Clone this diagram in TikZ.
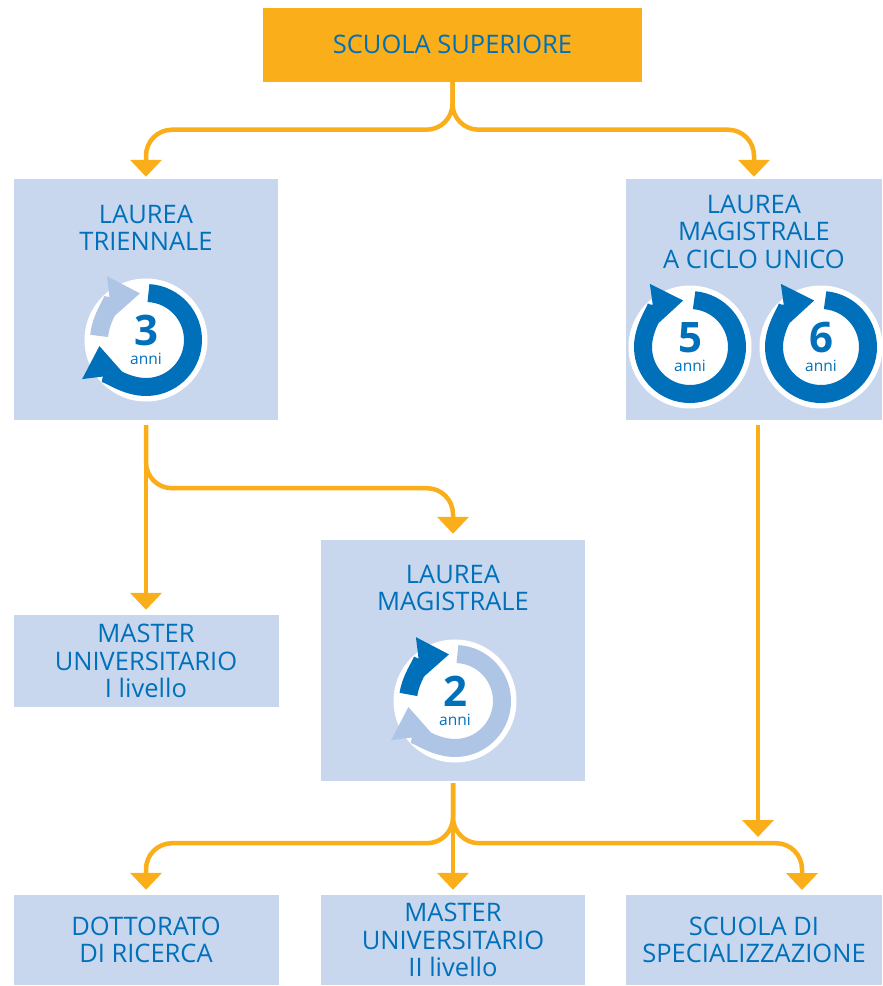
\documentclass[tikz,border=0pt]{standalone}
\usepackage{fontspec}
\setmainfont{Open Sans}
\usepackage{tikz}
\usetikzlibrary{arrows.meta, positioning, calc}

\definecolor{boxorange}{HTML}{F9AE1A}
\definecolor{boxblue}{HTML}{C8D7ED}
\definecolor{textblue}{HTML}{0070BA}
\definecolor{ringlight}{HTML}{AFC5E6}

\tikzset{
  box/.style={fill=boxblue, text=textblue, align=center, inner sep=0pt,
    font=\fontsize{25.5}{27.5}\selectfont},
  topbox/.style={box, fill=boxorange},
  lbl/.style={text=textblue, align=center, inner sep=0pt,
    font=\fontsize{25.5}{27.5}\selectfont},
  flow/.style={draw=boxorange, line width=4.5pt, rounded corners=26pt,
    -{Triangle[width=31pt,length=17pt]}},
  cyc/.style={line width=18pt, -{Triangle[width=40pt,length=31pt]}},
  num/.style={text=textblue, inner sep=0pt, anchor=base,
    font=\fontsize{42}{42}\selectfont\bfseries},
  yrs/.style={text=textblue, inner sep=0pt, anchor=base,
    font=\fontsize{15.5}{15.5}\selectfont},
}

\begin{document}
\begin{tikzpicture}[x=1pt, y=1pt]
  \useasboundingbox (0,0) rectangle (883,-986);

  % Boxes
  \node[topbox, minimum width=379pt, minimum height=74pt] (top) at (452.5,-44.5) {SCUOLA SUPERIORE};
  \node[box, minimum width=264pt, minimum height=241pt] (tri) at (146,-299.5) {};
  \node[box, minimum width=256pt, minimum height=241pt] (ciclo) at (754,-299.5) {};
  \node[box, minimum width=264pt, minimum height=241pt] (lm) at (453,-660.5) {};
  \node[box, minimum width=265pt, minimum height=92pt] (m1) at (146,-661) {MASTER\\UNIVERSITARIO\\I livello};
  \node[box, minimum width=265pt, minimum height=90pt] (dott) at (146,-940) {DOTTORATO\\DI RICERCA};
  \node[box, minimum width=264pt, minimum height=90pt] (m2) at (453,-940) {MASTER\\UNIVERSITARIO\\II livello};
  \node[box, minimum width=256pt, minimum height=90pt] (spec) at (754,-940) {SCUOLA DI\\SPECIALIZZAZIONE};

  % Titles of the tall boxes
  \node[lbl, below=26pt of tri.north] (tritxt) {LAUREA\\TRIENNALE};
  \node[lbl, below=16pt of ciclo.north] (ciclotxt) {LAUREA\\MAGISTRALE\\A CICLO UNICO};
  \node[lbl, below=25pt of lm.north] (lmtxt) {LAUREA\\MAGISTRALE};

  % 3 anni
  \coordinate (c3) at (146,-340);
  \fill[white] (c3) circle[radius=61.5pt];
  \draw[cyc, textblue] (c3) ++(87:47pt) arc[start angle=87, end angle=-173, radius=47pt];
  \draw[cyc, ringlight] (c3) ++(175:47pt) arc[start angle=175, end angle=97, radius=47pt];
  \node[num] (n3) at ([yshift=-5pt]c3) {3};
  \node[yrs] (a3) at ([yshift=-24pt]c3) {anni};

  % 2 anni
  \coordinate (c2) at (455,-701);
  \fill[white] (c2) circle[radius=61.5pt];
  \draw[cyc, ringlight] (c2) ++(87:47pt) arc[start angle=87, end angle=-173, radius=47pt];
  \draw[cyc, textblue] (c2) ++(172:47pt) arc[start angle=172, end angle=97, radius=47pt];
  \node[num] (n2) at ([yshift=-5pt]c2) {2};
  \node[yrs] (a2) at ([yshift=-24pt]c2) {anni};

  % 5 e 6 anni
  \foreach \n/\cx in {5/690, 6/821} {
    \coordinate (c\n) at (\cx,-347);
    \fill[white] (c\n) circle[radius=61.5pt];
    \draw[cyc, textblue] (c\n) ++(85:47pt) arc[start angle=85, end angle=-262, radius=47pt];
    \node[num] (n\n) at ([yshift=-5pt]c\n) {\n};
    \node[yrs] (a\n) at ([yshift=-24pt]c\n) {anni};
  }

  % Connectors
  \draw[flow, shorten >=2pt] (top.south) -- ++(0,-48) -| (tri.north);
  \draw[flow, shorten >=2pt] (top.south) -- ++(0,-48) -| (ciclo.north);

  \draw[flow, shorten <=5pt, shorten >=5pt] (tri.south) -- (m1.north);
  \draw[flow, shorten <=5pt, shorten >=6pt] (tri.south) -- ++(0,-68) -| (lm.north);

  \coordinate (cuend) at (758,-837);
  \draw[flow, shorten <=5pt] (ciclo.south -| cuend) -- (cuend);

  \coordinate (specin) at (802,-890);
  \draw[flow, shorten <=2pt, shorten >=5pt] (lm.south) -- ++(0,-62) -| (dott.north);
  \draw[flow, shorten <=2pt, shorten >=5pt] (lm.south) -- (m2.north);
  \draw[flow, shorten <=2pt] (lm.south) -- ++(0,-62) -| (specin);
\end{tikzpicture}
\end{document}
